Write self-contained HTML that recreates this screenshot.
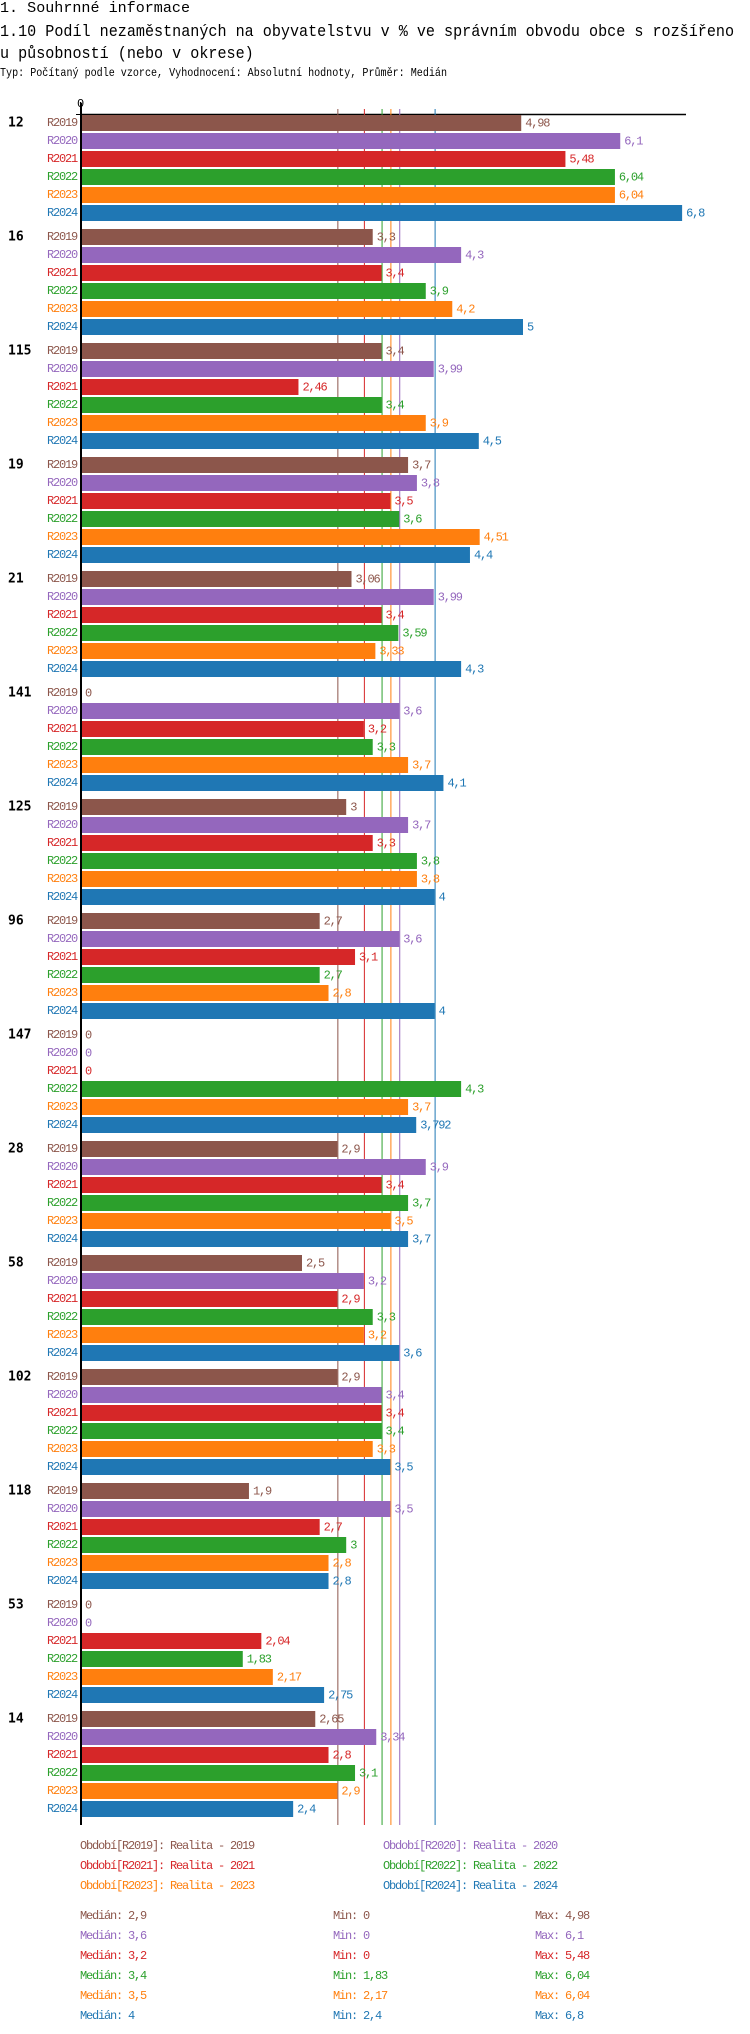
<!DOCTYPE html>
<html><head><meta charset="utf-8"><style>
body{margin:0;background:#fff;width:750px;height:2034px;overflow:hidden;position:relative;font-family:"Liberation Mono",monospace}
.t{position:absolute;left:0;white-space:nowrap;color:#000;transform-origin:0 0}
</style></head><body>
<div class="t" id="t1" style="top:0px;font-size:15px">1. Souhrnné informace</div>
<div class="t" id="t2" style="top:21px;font-size:16.5px;line-height:22px">1.10 Podíl nezaměstnaných na obyvatelstvu v % ve správním obvodu obce s rozšířeno</div>
<div class="t" id="t3" style="top:43px;font-size:16.5px;line-height:22px">u působností (nebo v okrese)</div>
<div class="t" id="t4" style="top:66px;font-size:12px">Typ: Počítaný podle vzorce, Vyhodnocení: Absolutní hodnoty, Průměr: Medián</div>
<svg id="c" width="750" height="2034" style="position:absolute;left:0;top:0" xmlns="http://www.w3.org/2000/svg"></svg>
<script>
const groups=["12","16","115","19","21","141","125","96","147","28","58","102","118","53","14"];
const seriesNames=["R2019","R2020","R2021","R2022","R2023","R2024"];
const s2019=[4.98,3.3,3.4,3.7,3.06,0,3,2.7,0,2.9,2.5,2.9,1.9,0,2.65];
const s2020=[6.1,4.3,3.99,3.8,3.99,3.6,3.7,3.6,0,3.9,3.2,3.4,3.5,0,3.34];
const s2021=[5.48,3.4,2.46,3.5,3.4,3.2,3.3,3.1,0,3.4,2.9,3.4,2.7,2.04,2.8];
const s2022=[6.04,3.9,3.4,3.6,3.59,3.3,3.8,2.7,4.3,3.7,3.3,3.4,3,1.83,3.1];
const s2023=[6.04,4.2,3.9,4.51,3.33,3.7,3.8,2.8,3.7,3.5,3.2,3.3,2.8,2.17,2.9];
const s2024=[6.8,5,4.5,4.4,4.3,4.1,4,4,3.792,3.7,3.6,3.5,2.8,2.75,2.4];
const medians=[2.9,3.6,3.2,3.4,3.5,4];
const mins=[0,0,0,1.83,2.17,2.4];
const maxs=[4.98,6.1,5.48,6.04,6.04,6.8];
const legendText=["Realita - 2019","Realita - 2020","Realita - 2021","Realita - 2022","Realita - 2023","Realita - 2024"];
const series=[s2019,s2020,s2021,s2022,s2023,s2024];
const colors=["#8c564b","#9467bd","#d62728","#2ca02c","#ff7f0e","#1f77b4"];
// fit title widths
(function(){
 const fit=(id,w)=>{const el=document.getElementById(id);const r=w/el.getBoundingClientRect().width;el.style.transform='scaleX('+r+')';return r;};
 fit('t1',190);
 const r=fit('t2',734);
 document.getElementById('t3').style.transform='scaleX('+r+')';
 fit('t4',447);
})();
const svg=document.getElementById('c');const NS="http://www.w3.org/2000/svg";
const X0=81,K=88.4;const x=v=>X0+v*K;
const yBar=(g,s)=>115+g*114+s*18;
const fmt=v=>String(v).replace('.',',');
function mk(t,a,txt){const e=document.createElementNS(NS,t);for(const k in a)e.setAttribute(k,a[k]);if(txt!==undefined)e.textContent=txt;svg.appendChild(e);return e;}
function txt(xx,yy,s,col,anchor,extra){const e=mk('text',Object.assign({x:xx,y:yy,fill:col,'font-family':'"Liberation Mono",monospace','font-size':12,'letter-spacing':'-1.2','text-anchor':anchor||'start','dominant-baseline':'central'},extra||{}),s);return e;}
let e=mk('line',{x1:80,y1:114.5,x2:686,y2:114.5,stroke:'#000','stroke-width':1.5});


e=mk('line',{x1:76,y1:114.5,x2:80,y2:114.5,stroke:'#000'});


e=txt(80,104,'0','#000','middle');


medians.forEach((m,i)=>{const l=mk('line',{x1:x(m)+0.5,y1:109,x2:x(m)+0.5,y2:1825,stroke:colors[i],'stroke-width':1});

});
groups.forEach((g,gi)=>{
 const gl=mk('text',{x:8,y:yBar(gi,0)+8,'font-family':'"DejaVu Sans Mono","Liberation Mono",monospace','font-size':13,'font-weight':'bold','dominant-baseline':'central',fill:'#000'},g);
 
 
 series.forEach((s,si)=>{
  const y=yBar(gi,si),v=s[gi];
  const lb=txt(77,y+8,seriesNames[si],colors[si],'end');
  
  
  if(v>0){const r=mk('rect',{x:X0,y:y,width:x(v)-X0,height:16,fill:colors[si]});
   
   }
  const vl=txt(x(v)+4,y+8.5,fmt(v),colors[si]);
  
  
 });
});
e=mk('rect',{x:80,y:103,width:2,height:1722,fill:'#000'});


seriesNames.forEach((n,i)=>{const lx=i%2?383:80,ly=1846+Math.floor(i/2)*20;
 const t=txt(lx,ly,'Období['+n+']: '+legendText[i],colors[i]);
 
 });
seriesNames.forEach((n,i)=>{const y=1916+i*20;
 let t=txt(80,y,'Medián: '+fmt(medians[i]),colors[i]);
 
 
 t=txt(333,y,'Min: '+fmt(mins[i]),colors[i]);
 
 
 t=txt(535,y,'Max: '+fmt(maxs[i]),colors[i]);
 
 });
</script>
</body></html>
